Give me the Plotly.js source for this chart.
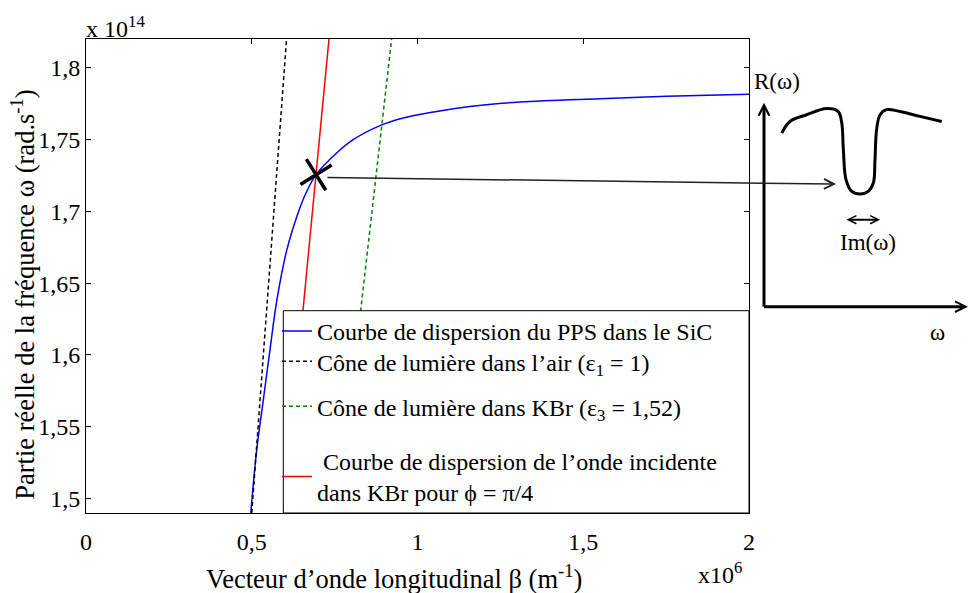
<!DOCTYPE html>
<html>
<head>
<meta charset="utf-8">
<script src="https://cdn.plot.ly/plotly-3.0.1.min.js"></script>
<style>html,body{margin:0;padding:0;background:#fff;}</style>
</head>
<body>
<div id="chart" style="width:968px;height:593px;"></div>
<script>
// ---- Data (β in 10^6 m^-1, ω in 10^14 rad/s) ----
const betaPPS  = [0.497, 0.515, 0.535, 0.555, 0.576, 0.606, 0.640, 0.664, 0.694, 0.756, 0.806, 0.887, 0.957, 1.058, 1.158, 1.309, 1.551, 1.752, 2.0];
const omegaPPS = [1.4897, 1.5338, 1.5687, 1.6035, 1.6384, 1.6733, 1.6991, 1.7130, 1.7256, 1.7407, 1.7500, 1.7598, 1.7651, 1.7697, 1.7732, 1.7763, 1.7786, 1.7802, 1.7816];
const betaAir  = [0.500, 0.605];
const omegaAir = [1.4897, 1.8202];
const betaKBr  = [0.759, 0.922];
const omegaKBr = [1.4897, 1.8202];
const betaInc  = [0.596, 0.733];
const omegaInc = [1.4897, 1.8202];
const crossBeta  = [0.694];
const crossOmega = [1.7256];

const seriesNames = [
  'Courbe de dispersion du PPS dans le SiC',
  'Cône de lumière dans l’air (ε<sub>1</sub> = 1)',
  'Cône de lumière dans KBr (ε<sub>3</sub> = 1,52)',
  ' Courbe de dispersion de l’onde incidente<br>dans KBr pour ϕ = π/4'
];

const xTickVals = [0, 0.5, 1, 1.5, 2];
const xTickText = ['0', '0,5', '1', '1,5', '2'];
const yTickVals = [1.5, 1.55, 1.6, 1.65, 1.7, 1.75, 1.8];
const yTickText = ['1,5', '1,55', '1,6', '1,65', '1,7', '1,75', '1,8'];

// inset sketch R(ω) (arbitrary units)
const insetW = [0.087, 0.127, 0.209, 0.307, 0.363, 0.381, 0.389, 0.402, 0.430, 0.471, 0.511, 0.536, 0.544, 0.552, 0.569, 0.601, 0.667, 0.765, 0.871];
const insetR = [0.851, 0.908, 0.941, 0.971, 0.957, 0.902, 0.770, 0.623, 0.565, 0.552, 0.565, 0.606, 0.721, 0.868, 0.941, 0.966, 0.957, 0.933, 0.908];
const dipW = [0.353], dipR = [0.601];
const imW = [0.397, 0.569], imR = [0.4265, 0.4265];

const serif = 'Liberation Serif, Times New Roman, serif';

const traces = [
  {x: betaPPS, y: omegaPPS, mode: 'lines', name: seriesNames[0], legend: 'legend', line: {color: '#0000ff', width: 1.5, shape: 'spline'}},
  {x: betaAir, y: omegaAir, mode: 'lines', name: seriesNames[1], legend: 'legend2', line: {color: '#000000', width: 1.5, dash: '4px,3px'}},
  {x: betaKBr, y: omegaKBr, mode: 'lines', name: seriesNames[2], legend: 'legend3', line: {color: '#008000', width: 1.5, dash: '4px,3px'}},
  {x: betaInc, y: omegaInc, mode: 'lines', name: seriesNames[3], legend: 'legend4', line: {color: '#ff0000', width: 1.5}},
  {x: crossBeta, y: crossOmega, mode: 'markers', showlegend: false, hoverinfo: 'skip',
   marker: {symbol: 'x-thin', size: 26, angle: 13, color: '#000', line: {color: '#000', width: 3.5}}},
  {x: insetW, y: insetR, xaxis: 'x2', yaxis: 'y2', mode: 'lines', showlegend: false,
   line: {color: '#000', width: 3, shape: 'spline'}}
];

const plotL = 86, plotR = 968, plotT = 39.3, plotB = 513.3;
const W = plotR - plotL, H = plotB - plotT;
const px = v => (v - plotL) / W;
const py = v => (plotB - v) / H;
const mainRight = px(749);

function legendAt(yPix) {
  return {
    x: px(277), y: py(yPix), xanchor: 'left', yanchor: 'middle',
    bgcolor: 'rgba(0,0,0,0)', borderwidth: 0,
    font: {family: serif, size: 24, color: '#000'},
    itemwidth: 30
  };
}

const layout = {
  width: 968, height: 593,
  margin: {l: plotL, r: 0, t: plotT, b: 593 - plotB, pad: 0},
  paper_bgcolor: '#fff', plot_bgcolor: 'rgba(0,0,0,0)',
  font: {family: serif, size: 24, color: '#000'},
  separators: ', ',
  showlegend: true,
  xaxis: {
    domain: [0, mainRight], range: [0, 2], anchor: 'y',
    tickvals: xTickVals, ticktext: xTickText,
    ticks: 'inside', ticklen: 5, tickcolor: '#000', tickwidth: 1,
    showline: true, linecolor: '#000', linewidth: 1, mirror: 'ticks',
    showgrid: false, zeroline: false, ticklabelstandoff: 7,
    tickfont: {family: serif, size: 24, color: '#000'}
  },
  yaxis: {
    domain: [0, 1], range: [1.4897, 1.8202], anchor: 'x',
    tickvals: yTickVals, ticktext: yTickText,
    ticks: 'inside', ticklen: 5, tickcolor: '#000', tickwidth: 1,
    showline: true, linecolor: '#000', linewidth: 1, mirror: 'ticks',
    showgrid: false, zeroline: false, ticklabelstandoff: 0,
    tickfont: {family: serif, size: 24, color: '#000'}
  },
  xaxis2: {domain: [mainRight, 1], range: [(749 - 764) / 204, (968 - 764) / 204], anchor: 'y2', visible: false, fixedrange: true},
  yaxis2: {domain: [0, 1], range: [(307 - 513.3) / 204, (307 - 39.3) / 204], anchor: 'x2', visible: false, fixedrange: true},
  legend: legendAt(331.7),
  legend2: legendAt(362),
  legend3: legendAt(407),
  legend4: legendAt(477),
  shapes: [
    {type: 'rect', xref: 'paper', yref: 'paper', x0: px(283.3), x1: mainRight, y0: 0, y1: py(311),
     line: {color: '#000', width: 1}, fillcolor: '#fff', layer: 'above'}
  ],
  annotations: [
    {xref: 'paper', yref: 'paper', x: px(84), y: py(27), xanchor: 'left', yanchor: 'middle', showarrow: false,
     text: 'x 10<sup>14</sup>', font: {family: serif, size: 24}},
    {xref: 'paper', yref: 'paper', x: px(720), y: py(573), xanchor: 'center', yanchor: 'middle', showarrow: false,
     text: 'x10<sup>6</sup>', font: {family: serif, size: 24}},
    {xref: 'paper', yref: 'paper', x: px(394), y: py(577), xanchor: 'center', yanchor: 'middle', showarrow: false,
     text: 'Vecteur d’onde longitudinal β (m<sup>-1</sup>)', font: {family: serif, size: 26.5}},
    {xref: 'paper', yref: 'paper', x: px(23), y: py(295), xanchor: 'center', yanchor: 'middle', showarrow: false, textangle: -90,
     text: 'Partie réelle de la fréquence ω (rad.s<sup>-1</sup>)', font: {family: serif, size: 26.5}},
    // inset texts
    {xref: 'x2', yref: 'y2', x: (777 - 764) / 204, y: (307 - 82) / 204, showarrow: false, text: 'R(ω)', font: {family: serif, size: 23}},
    {xref: 'x2', yref: 'y2', x: (868 - 764) / 204, y: (307 - 243) / 204, showarrow: false, text: 'Im(ω)', font: {family: serif, size: 23}},
    {xref: 'x2', yref: 'y2', x: (937 - 764) / 204, y: (307 - 333) / 204, showarrow: false, text: 'ω', font: {family: serif, size: 23}},
    // inset axes arrows
    {xref: 'x2', yref: 'y2', axref: 'x2', ayref: 'y2', x: 0, y: 1, ax: 0, ay: -0.007, text: '', showarrow: true,
     arrowhead: 5, arrowsize: 0.7, arrowwidth: 3, arrowcolor: '#000'},
    {xref: 'x2', yref: 'y2', axref: 'x2', ayref: 'y2', x: 1.0, y: 0, ax: -0.007, ay: 0, text: '', showarrow: true,
     arrowhead: 5, arrowsize: 0.7, arrowwidth: 3, arrowcolor: '#000'},
    // Im(ω) double arrow
    {xref: 'x2', yref: 'y2', axref: 'x2', ayref: 'y2', x: imW[1], y: imR[1], ax: imW[0], ay: imR[0], text: '', showarrow: true,
     arrowhead: 5, startarrowhead: 5, arrowside: 'end+start', arrowsize: 0.8, startarrowsize: 0.8, arrowwidth: 2, arrowcolor: '#000'},
    // long arrow from the crossing to the dip
    {xref: 'x2', yref: 'y2', x: dipW[0], y: dipR[0], axref: 'pixel', ayref: 'pixel', ax: -510, ay: -6.6, text: '', showarrow: true,
     arrowhead: 5, arrowsize: 1.3, arrowwidth: 1.5, arrowcolor: '#222'}
  ]
};

Plotly.newPlot('chart', traces, layout, {displayModeBar: false, staticPlot: true});
</script>
</body>
</html>
